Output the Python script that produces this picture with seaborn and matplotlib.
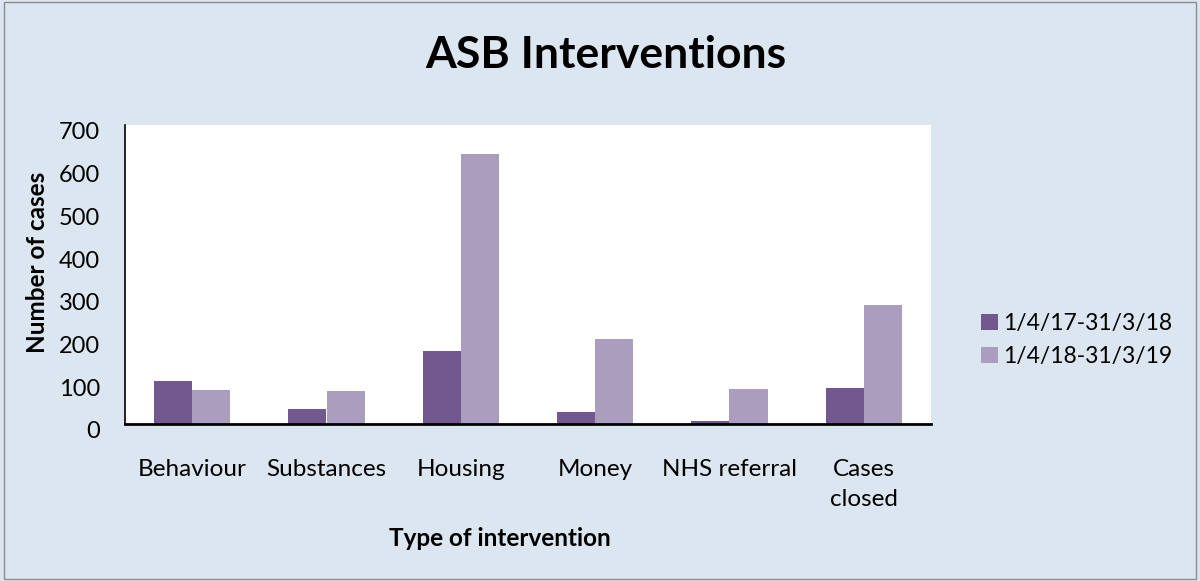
import pandas as pd
import matplotlib.pyplot as plt
import matplotlib.transforms as mtransforms
import seaborn as sns

# Values
categories = ["Behaviour", "Substances", "Housing", "Money", "NHS referral", "Cases\nclosed"]
period_1 = [101, 35, 171, 28, 6, 84]
period_2 = [80, 77, 632, 199, 82, 279]
series_names = ["1/4/17-31/3/18", "1/4/18-31/3/19"]

df = pd.DataFrame({
    "category": categories * 2,
    "cases": period_1 + period_2,
    "period": [series_names[0]] * len(categories) + [series_names[1]] * len(categories),
})

sns.set_style("white")
plt.rcParams["font.family"] = ["Lato", "DejaVu Sans"]
plt.rcParams["text.color"] = "black"
plt.rcParams["axes.labelcolor"] = "black"
plt.rcParams["xtick.color"] = "black"
plt.rcParams["ytick.color"] = "black"

bg = "#DCE6F1"
fig = plt.figure(figsize=(12, 5.81), dpi=100, facecolor=bg)
ax = fig.add_axes([125 / 1200, 1 - 424 / 581, (931 - 125) / 1200, (424 - 125) / 581])

sns.barplot(data=df, x="category", y="cases", hue="period",
            palette=["#73588F", "#AA9DBD"], width=0.57, saturation=1,
            linewidth=0, ax=ax)

ax.set_ylim(0, 700)
ax.set_yticks(range(0, 701, 100))
ax.tick_params(axis="x", labelsize=17.5, length=0, pad=25)
ax.tick_params(axis="y", labelsize=17, length=0, pad=18)
for lbl in ax.get_xticklabels():
    lbl.set_linespacing(1.55)
# Excel draws the value labels a little below their gridline
shift = mtransforms.ScaledTranslation(0, -6 / 100, fig.dpi_scale_trans)
for lbl in ax.get_yticklabels():
    lbl.set_transform(lbl.get_transform() + shift)

for s in ["top", "right"]:
    ax.spines[s].set_visible(False)
ax.spines["left"].set_color("black")
ax.spines["left"].set_linewidth(1.2)
ax.spines["bottom"].set_color("black")
ax.spines["bottom"].set_linewidth(2)

ax.set_xlabel("Type of intervention", fontsize=17.5, fontweight="bold")
ax.xaxis.set_label_coords((500 - 125) / 806, (424 - 527) / 299)
ax.set_ylabel("Number of cases", fontsize=17.5, fontweight="bold")
ax.yaxis.set_label_coords((49 - 125) / 806, (424 - 262) / 299)

ax.legend(loc="center left", bbox_to_anchor=(970 / 1200, 1 - 340 / 581),
          bbox_transform=fig.transFigure, frameon=False, borderpad=0,
          fontsize=16.5, handlelength=0.7, handleheight=0.7, handletextpad=0.25,
          labelspacing=0.55)

fig.text(0.505, 1 - 55 / 581, "ASB Interventions", ha="center", va="center",
         fontsize=32, fontweight="bold")

# outer chart border
fig.patches.append(plt.Rectangle((0.003, 0.003), 0.994, 0.994, transform=fig.transFigure,
                                 fill=False, edgecolor="#8C8C8C", linewidth=1))

plt.savefig("out.png", dpi=100, facecolor=bg)
